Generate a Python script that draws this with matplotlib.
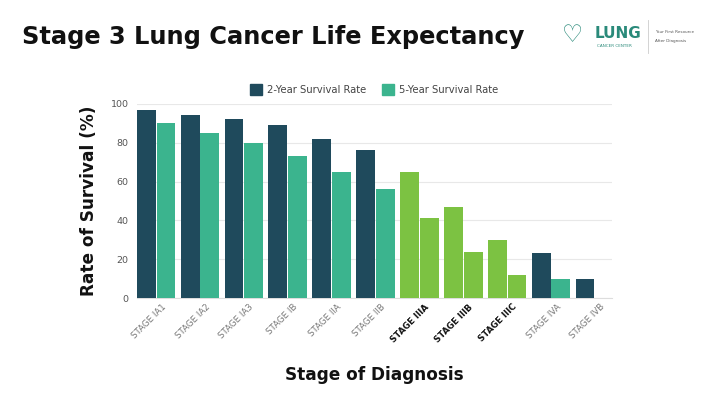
import numpy as np
import matplotlib
matplotlib.use('Agg')
import matplotlib.pyplot as plt
from matplotlib.patches import Patch

# Data.
stages = ['STAGE IA1', 'STAGE IA2', 'STAGE IA3', 'STAGE IB', 'STAGE IIA', 'STAGE IIB',
          'STAGE IIIA', 'STAGE IIIB', 'STAGE IIIC', 'STAGE IVA', 'STAGE IVB']
two_year = [97, 94, 92, 89, 82, 76, 65, 47, 30, 23, 10]
five_year = [90, 85, 80, 73, 65, 56, 41, 24, 12, 10, 0]
highlight = ['STAGE IIIA', 'STAGE IIIB', 'STAGE IIIC']

navy = '#1f4a5c'
teal = '#3bb48e'
lime = '#7cc242'

plt.rcParams['font.family'] = ['DejaVu Sans']

fig = plt.figure(figsize=(7.2, 4.04), dpi=100)
ax = fig.add_axes([0.19, 0.262, 0.66, 0.481])

x = np.arange(len(stages))
w = 0.43
off = 0.225
c2 = [lime if s in highlight else navy for s in stages]
c5 = [lime if s in highlight else teal for s in stages]
ax.bar(x - off, two_year, w, color=c2, zorder=3)
ax.bar(x + off, five_year, w, color=c5, zorder=3)

ax.set_xlim(-0.44, 10.39)
ax.set_ylim(0, 100)
ax.set_yticks([0, 20, 40, 60, 80, 100])
ax.tick_params(axis='y', length=0, labelsize=6.8, labelcolor='#555555', pad=6)
ax.tick_params(axis='x', length=0, pad=3)
ax.grid(axis='y', color='#e8e8e8', linewidth=0.8, zorder=0)
for sp in ['top', 'right', 'left']:
    ax.spines[sp].set_visible(False)
ax.spines['bottom'].set_color('#dddddd')

ax.set_xticks(x + 0.12)
ax.set_xticklabels(stages, rotation=45, ha='right', rotation_mode='anchor')
for lbl in ax.get_xticklabels():
    if lbl.get_text() in highlight:
        lbl.set_fontweight('bold')
        lbl.set_color('#111111')
    else:
        lbl.set_color('#777777')
    lbl.set_fontsize(6.2)

ax.set_ylabel('Rate of Survival (%)', fontsize=12.2, fontweight='bold', color='#111111', labelpad=9)
ax.set_xlabel('Stage of Diagnosis', fontsize=12.2, fontweight='bold', color='#111111', labelpad=16)

handles = [Patch(color=navy, label='2-Year Survival Rate'),
           Patch(color=teal, label='5-Year Survival Rate')]
ax.legend(handles=handles, loc='lower center', bbox_to_anchor=(0.5, 1.0), ncol=2,
          frameon=False, fontsize=7.2, handlelength=1.2, handleheight=1.2,
          handletextpad=0.5, columnspacing=1.6, labelcolor='#444444')

fig.text(0.03, 0.908, 'Stage 3 Lung Cancer Life Expectancy', fontsize=17.4,
         fontweight='bold', color='#111111', va='center', ha='left')

# Logo, approximated with text.
fig.text(0.826, 0.918, 'LUNG', fontsize=11, fontweight='bold', color='#2a8a7a', va='center')
fig.text(0.829, 0.886, 'CANCER CENTER', fontsize=3, color='#2a8a7a', va='center')
fig.text(0.780, 0.912, '\u2661', fontsize=17, fontweight='bold', color='#2a8a7a', va='center')
fig.add_artist(plt.Line2D([0.9, 0.9], [0.87, 0.95], color='#cccccc', lw=0.6))
fig.text(0.91, 0.92, 'Your First Resource', fontsize=3, color='#555555', va='center')
fig.text(0.91, 0.898, 'After Diagnosis', fontsize=3, color='#555555', va='center')

fig.savefig('out.png', dpi=100)
